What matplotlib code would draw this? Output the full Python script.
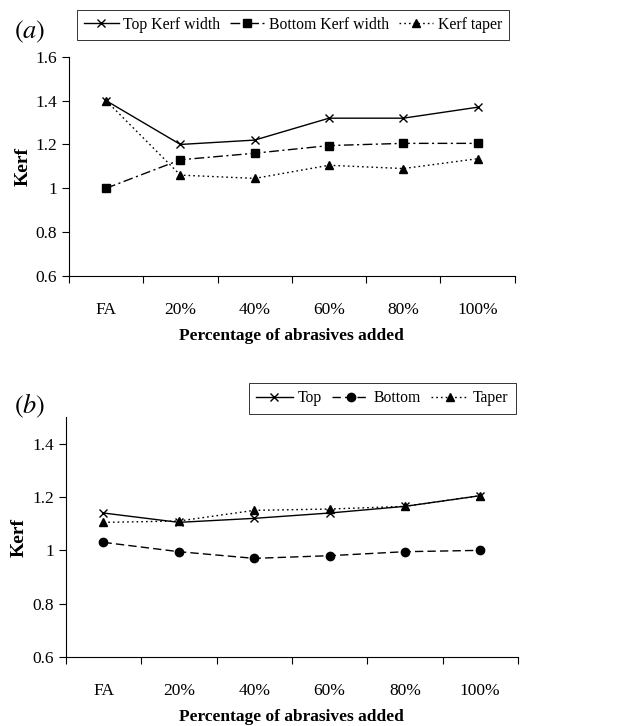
"""
Kerf width / taper vs percentage of abrasives added, two panels
"""
import numpy as np
import matplotlib.pyplot as plt

plt.rcParams['font.family'] = ['Liberation Serif', 'DejaVu Serif']
plt.rcParams['mathtext.fontset'] = 'stix'

categories = ["FA", "20%", "40%", "60%", "80%", "100%"]

# panel (a)
a_top = [1.40, 1.20, 1.22, 1.32, 1.32, 1.37]
a_bottom = [1.00, 1.13, 1.16, 1.195, 1.205, 1.205]
a_taper = [1.40, 1.06, 1.045, 1.105, 1.09, 1.135]
a_labels = ["Top Kerf width", "Bottom Kerf width", "Kerf taper"]

# panel (b)
b_top = [1.14, 1.105, 1.12, 1.14, 1.165, 1.205]
b_bottom = [1.03, 0.995, 0.97, 0.98, 0.995, 1.00]
b_taper = [1.105, 1.11, 1.15, 1.155, 1.165, 1.205]
b_labels = ["Top", "Bottom", "Taper"]

yticks = [0.6, 0.8, 1.0, 1.2, 1.4, 1.6]
ytick_labels = ["0.6", "0.8", "1", "1.2", "1.4", "1.6"]


def style_axes(ax, ymax, ticks):
    x = np.arange(len(categories))
    ax.set_xlim(-0.5, len(categories) - 0.5)
    ax.set_ylim(0.6, ymax)
    ax.set_xticks(x)
    ax.set_xticklabels(categories, fontsize=12.5)
    ax.set_xticks(np.arange(len(categories) + 1) - 0.5, minor=True)
    ax.tick_params(axis='x', which='major', length=0, pad=19)
    ax.tick_params(axis='x', which='minor', length=5, width=0.8, direction='out')
    ax.set_yticks(ticks)
    ax.set_yticklabels([ytick_labels[yticks.index(t)] for t in ticks], fontsize=12.5)
    ax.tick_params(axis='y', length=5, width=0.8, direction='out')
    for s in ['top', 'right']:
        ax.spines[s].set_visible(False)
    for s in ['left', 'bottom']:
        ax.spines[s].set_linewidth(0.8)
    ax.set_ylabel("Kerf", fontsize=14, fontweight='bold', labelpad=3)
    ax.set_xlabel("Percentage of abrasives added", fontsize=12.5, fontweight='bold', labelpad=7)


fig = plt.figure(figsize=(6.21, 7.26), dpi=100)
ax1 = fig.add_axes([0.111, 0.620, 0.718, 0.3017])
ax2 = fig.add_axes([0.106, 0.095, 0.728, 0.3306])

x = np.arange(len(categories))
kw = dict(color='black', linewidth=1.0, markersize=6)

ax1.plot(x, a_top, linestyle='-', marker='x', label=a_labels[0], **kw)
ax1.plot(x, a_bottom, linestyle=(0, (7, 2.5, 1.5, 2.5)), marker='s', markersize=5.5,
         color='black', linewidth=1.0, label=a_labels[1])
ax1.plot(x, a_taper, linestyle=(0, (1.2, 2.2)), marker='^', label=a_labels[2], **kw)
style_axes(ax1, 1.6, [0.6, 0.8, 1.0, 1.2, 1.4, 1.6])
ax1.legend(loc='upper left', bbox_to_anchor=(0.018, 1.215), ncol=3, fontsize=11.3,
           frameon=True, fancybox=False, edgecolor='black', handlelength=2.2,
           handletextpad=0.3, columnspacing=0.6, borderpad=0.45,
           borderaxespad=0).get_frame().set_linewidth(0.7)

ax2.plot(x, b_top, linestyle='-', marker='x', label=b_labels[0], **kw)
ax2.plot(x, b_bottom, linestyle=(0, (6, 3)), marker='o', label=b_labels[1], **kw)
ax2.plot(x, b_taper, linestyle=(0, (1.2, 2.2)), marker='^', label=b_labels[2], **kw)
style_axes(ax2, 1.5, [0.6, 0.8, 1.0, 1.2, 1.4])
ax2.legend(loc='upper right', bbox_to_anchor=(0.995, 1.14), ncol=3, fontsize=11.3,
           frameon=True, fancybox=False, edgecolor='black', handlelength=2.4,
           handletextpad=0.3, columnspacing=0.6, borderpad=0.45,
           borderaxespad=0).get_frame().set_linewidth(0.7)

fig.text(0.022, 0.947, r'$(a)$', fontsize=19)
fig.text(0.022, 0.43, r'$(b)$', fontsize=19)

fig.savefig("out.png", dpi=100)
